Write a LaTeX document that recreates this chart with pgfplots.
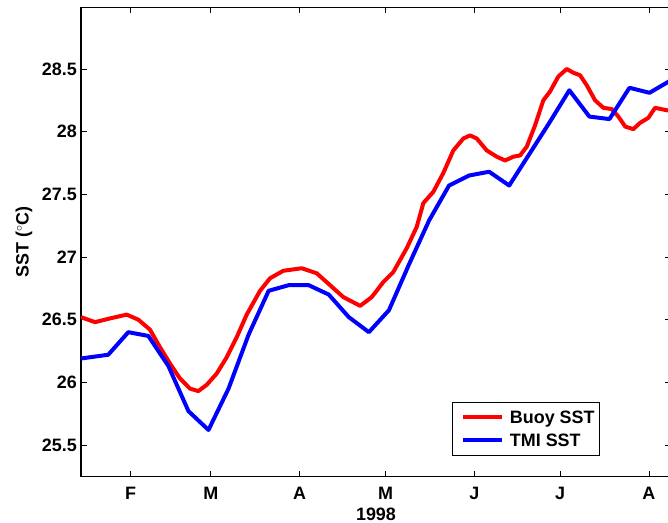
\documentclass[border=0pt]{standalone}
\usepackage{pgfplots}
\pgfplotsset{compat=1.18}
\usepackage{fontspec}
\setmainfont{Liberation Sans}
\newcommand\lf{\fontsize{18}{21}\selectfont\bfseries}
\begin{document}
\begin{tikzpicture}
\path[use as bounding box] (0bp,0bp) rectangle (668bp,523bp);
\begin{axis}[
  at={(81bp,46.3bp)}, anchor=south west,
  scale only axis, width=590bp, height=469.4bp,
  xmin=14.68, xmax=220.7, ymin=25.247, ymax=28.992,
  xtick={32,60,91,121,152,182,213},
  xticklabels={F,M,A,M,J,J,A},
  ytick={25.5,26,26.5,27,27.5,28,28.5},
  yticklabels={25.5,26,26.5,27,27.5,28,28.5},
  /pgf/number format/assume math mode=true,
  tick align=inside,
  major tick length=5.8bp,
  every tick/.style={black, line width=0.8bp},
  axis line style={black, line width=1.3bp},
  xticklabel style={font=\lf, inner sep=0pt, anchor=north, yshift=-10.2bp},
  yticklabel style={font=\lf, inner sep=0pt, anchor=east, xshift=-4bp},
  xlabel={1998},
  xlabel style={font=\lf, inner sep=0pt, at={(axis description cs:0.5,-0.0652)}, anchor=north},
  ylabel={SST ($^{\circ}$C)},
  ylabel style={font=\lf, inner sep=0pt, at={(axis description cs:-0.0966,0.5)}, anchor=center, rotate=0},
  legend style={font=\lf, at={(axis description cs:0.8785,0.0447)}, anchor=south east, draw=black, line width=0.8bp, inner xsep=4.3bp, inner ysep=8.5bp, row sep=10.3bp,
    nodes={inner sep=0pt, text height=12.8bp, text depth=0pt}},
  legend cell align=left,
  legend image code/.code={\path (-4bp,0bp) (45bp,0bp); \draw[#1] (0bp,0bp) -- (39.4bp,0bp);},
]
\addplot[red, line width=4bp, line join=round] coordinates {
(14.68,26.52) (19.57,26.48) (24.81,26.51) (30.64,26.54) (34.69,26.50) (38.77,26.42)
(42.26,26.28) (45.76,26.15) (49.25,26.03) (52.74,25.95) (55.64,25.93) (58.58,25.98)
(62.07,26.07) (65.56,26.20) (69.05,26.36) (72.54,26.54) (77.19,26.73) (80.68,26.83)
(85.33,26.89) (91.75,26.91) (96.99,26.87) (101.64,26.775) (106.28,26.68) (112.16,26.61)
(116.20,26.68) (120.25,26.80) (123.74,26.88) (128.42,27.07) (131.91,27.24) (134.22,27.43)
(137.71,27.52) (141.20,27.67) (144.69,27.85) (148.18,27.945) (150.53,27.97) (152.87,27.945)
(156.36,27.85) (159.85,27.80) (162.75,27.77) (165.65,27.80) (167.99,27.81) (170.33,27.88)
(173.23,28.05) (176.12,28.25) (178.46,28.32) (181.36,28.44) (184.30,28.50) (186.60,28.47)
(188.94,28.45) (191.28,28.37) (194.18,28.25) (197.08,28.19) (200.01,28.18) (202.32,28.12)
(204.73,28.04) (207.55,28.02) (209.89,28.07) (212.79,28.11) (215.13,28.19) (219.37,28.17)
(220.7,28.17)
};
\addlegendentry{Buoy SST}
\addplot[blue, line width=4bp, line join=round] coordinates {
(14.68,26.19) (24.2,26.22) (31.2,26.40) (38.2,26.37) (45.2,26.13) (52.2,25.77)
(59.2,25.62) (66.2,25.95) (73.2,26.38) (80.2,26.73) (87.2,26.775) (94.2,26.775)
(101.2,26.70) (108.2,26.52) (115.2,26.40) (122.2,26.575) (129.2,26.94) (136.2,27.29)
(143.2,27.57) (150.2,27.65) (157.2,27.68) (164.2,27.57) (171.2,27.82) (178.2,28.07)
(185.2,28.33) (192.2,28.12) (199.2,28.10) (206.2,28.35) (213.2,28.31) (220.7,28.41)
};
\addlegendentry{TMI SST}
\end{axis}
\end{tikzpicture}
\end{document}
